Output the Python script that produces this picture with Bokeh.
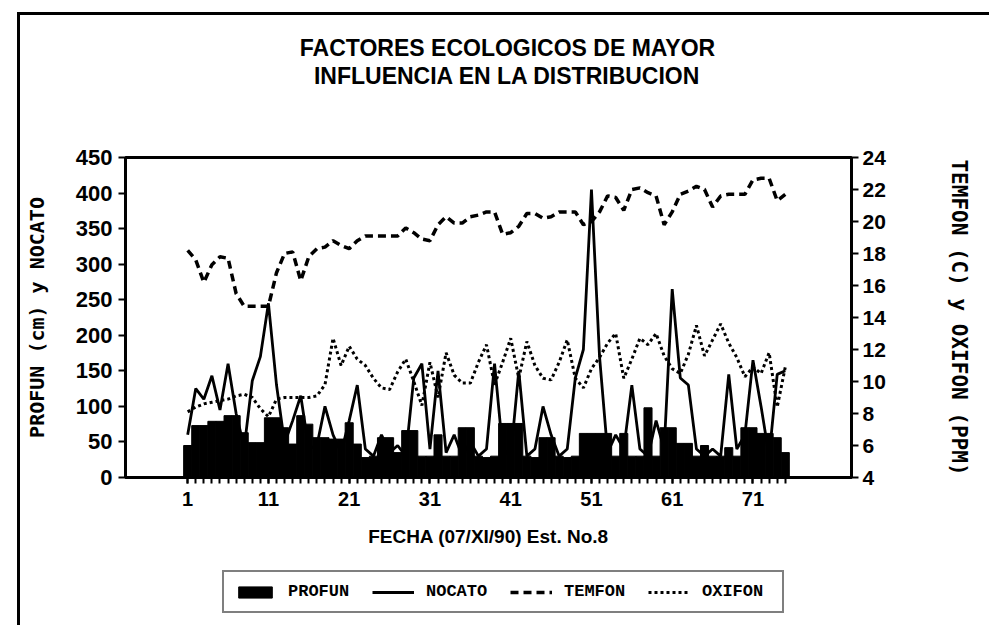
import math
from bokeh.plotting import figure
from bokeh.layouts import column
from bokeh.models import (Range1d, LinearAxis, FixedTicker, Label, Legend,
                          LegendItem, ColumnDataSource)
from bokeh.embed import file_html
from bokeh.resources import INLINE

# ---------------- data ----------------
fecha = list(range(1, 76))

profun = [45, 73, 73, 79, 79, 87, 87, 63, 49, 49,
          84, 84, 70, 47, 87, 75, 56, 56, 54, 54,
          77, 47, 28, 30, 56, 56, 35, 66, 66, 30,
          30, 60, 30, 30, 70, 70, 30, 28, 30, 76,
          76, 76, 30, 28, 56, 56, 30, 28, 30, 62,
          62, 62, 62, 30, 62, 30, 30, 98, 30, 70,
          70, 48, 48, 30, 45, 30, 30, 42, 30, 70,
          70, 62, 62, 56, 35]

nocato = [60, 125, 110, 143, 95, 160, 90, 42, 136, 170,
          245, 130, 48, 80, 115, 40, 45, 100, 60, 35,
          80, 130, 40, 30, 60, 35, 45, 30, 140, 160,
          40, 150, 35, 60, 30, 50, 30, 40, 160, 40,
          30, 150, 30, 40, 100, 60, 30, 40, 140, 180,
          405, 170, 35, 60, 40, 130, 40, 30, 80, 40,
          265, 140, 130, 40, 30, 40, 30, 145, 40, 60,
          165, 100, 30, 145, 150]

temfon = [18.2, 17.6, 16.2, 17.3, 17.8, 17.7, 15.5, 14.7, 14.7, 14.7,
          14.7, 16.8, 18.0, 18.1, 16.3, 17.8, 18.3, 18.4, 18.8, 18.5,
          18.3, 18.8, 19.1, 19.1, 19.1, 19.1, 19.1, 19.6, 19.3, 18.9,
          18.8, 19.8, 20.3, 19.9, 19.9, 20.3, 20.4, 20.6, 20.6, 19.2,
          19.3, 19.7, 20.5, 20.5, 20.2, 20.3, 20.6, 20.6, 20.6, 19.8,
          20.0, 20.6, 21.6, 21.5, 20.7, 22.0, 22.1, 21.8, 21.6, 19.8,
          20.6, 21.7, 21.9, 22.2, 22.0, 20.9, 21.6, 21.7, 21.7, 21.7,
          22.6, 22.7, 22.7, 21.3, 21.7]

oxifon = [8.1, 8.4, 8.6, 8.7, 8.8, 8.9, 9.1, 9.2, 9.0, 8.3,
          7.8, 8.9, 9.0, 9.0, 9.0, 9.0, 9.1, 9.8, 12.7, 11.0,
          12.2, 11.4, 11.0, 10.2, 9.6, 9.5, 10.6, 11.4, 10.0, 8.5,
          11.2, 9.0, 11.8, 10.4, 9.9, 9.9, 11.2, 12.3, 9.8, 11.2,
          12.7, 10.2, 12.5, 11.0, 10.2, 10.1, 11.2, 12.6, 10.2, 9.6,
          10.8, 11.5, 12.4, 13.0, 10.2, 11.4, 12.7, 12.3, 13.0, 11.6,
          10.8, 10.5, 11.7, 13.5, 11.6, 12.6, 13.6, 12.4, 11.5, 10.3,
          10.9, 10.5, 11.8, 8.4, 10.9]

left_ticks = list(range(0, 451, 50))
right_ticks = list(range(4, 25, 2))
x_label_ticks = [1, 11, 21, 31, 41, 51, 61, 71]

title_lines = ["FACTORES ECOLOGICOS DE MAYOR", "INFLUENCIA EN LA DISTRIBUCION"]
x_title = "FECHA (07/XI/90) Est. No.8"
y_left_title = "PROFUN (cm) y NOCATO"
y_right_title = "TEMFON (C) y OXIFON (PPM)"
series_names = ["PROFUN", "NOCATO", "TEMFON", "OXIFON"]

# ---------------- geometry ----------------
W = 969            # page x 20 .. 989
H_TITLE = 100      # page y 15 .. 115
H_MAIN = 451       # page y 115 .. 566
H_LEG = 59         # page y 566 .. 625
MB_L = 105
MB_R = 138

tick_font = "Liberation Sans"
mono = "DejaVu Sans Mono"

src = ColumnDataSource(dict(x=fecha, profun=profun, nocato=nocato,
                            temfon=temfon, oxifon=oxifon))


def draw_series(fig):
    b = fig.vbar(x="x", top="profun", bottom=0, width=1.0, source=src,
                 fill_color="black", line_color="black")
    n = fig.line("x", "nocato", source=src, line_color="black", line_width=2.8)
    t = fig.line("x", "temfon", source=src, line_color="black", line_width=3.5,
                 line_dash="8 5", y_range_name="r")
    o = fig.line("x", "oxifon", source=src, line_color="black", line_width=3,
                 line_dash="3 3", y_range_name="r")
    return [b, n, t, o]


def blank_fig(h):
    f = figure(width=W, height=h, output_backend="svg", toolbar_location=None,
               x_range=Range1d(1000, 1001), y_range=Range1d(1000, 1001),
               x_axis_type=None, y_axis_type=None,
               min_border_left=MB_L, min_border_right=MB_R,
               min_border_top=0, min_border_bottom=0)
    f.extra_y_ranges = {"r": Range1d(1000, 1001)}
    f.xgrid.visible = False
    f.ygrid.visible = False
    f.outline_line_color = None
    f.background_fill_color = "white"
    f.border_fill_color = "white"
    return f


# ---------------- title strip ----------------
tf = blank_fig(H_TITLE)
for txt, yy in zip(title_lines, [68, 40]):
    tf.add_layout(Label(x=382, y=yy, x_units="screen", y_units="screen",
                        text=txt, text_align="center", text_baseline="middle",
                        text_font=tick_font, text_font_style="bold",
                        text_font_size="23px", text_color="black"))

# ---------------- main figure ----------------
p = figure(width=W, height=H_MAIN, output_backend="svg", toolbar_location=None,
           x_range=Range1d(-6.7, 83.2), y_range=Range1d(0, 450),
           min_border_left=MB_L, min_border_right=MB_R,
           min_border_top=42, min_border_bottom=89)
p.extra_y_ranges = {"r": Range1d(4, 24)}
p.xgrid.visible = False
p.ygrid.visible = False
p.outline_line_color = "black"
p.outline_line_width = 3
p.background_fill_color = "white"
p.border_fill_color = "white"
draw_series(p)

# left axis
ya = p.yaxis[0]
ya.ticker = FixedTicker(ticks=left_ticks)
ya.axis_line_width = 3
ya.major_tick_line_width = 2
ya.major_tick_out = 7
ya.major_tick_in = 0
ya.minor_tick_out = 0
ya.minor_tick_in = 0
ya.major_label_standoff = 6
ya.major_label_text_font = tick_font
ya.major_label_text_font_style = "bold"
ya.major_label_text_font_size = "22px"
ya.major_label_text_color = "black"
ya.axis_label = y_left_title
ya.axis_label_standoff = 24
ya.axis_label_text_font = mono
ya.axis_label_text_font_style = "bold"
ya.axis_label_text_font_size = "20px"
ya.axis_label_text_color = "black"

# right axis
ra = LinearAxis(y_range_name="r", ticker=FixedTicker(ticks=right_ticks))
ra.axis_line_width = 3
ra.major_tick_line_width = 2
ra.major_tick_out = 7
ra.major_tick_in = 0
ra.minor_tick_out = 0
ra.minor_tick_in = 0
ra.major_label_standoff = 4
ra.major_label_text_font = tick_font
ra.major_label_text_font_style = "bold"
ra.major_label_text_font_size = "21px"
ra.major_label_text_color = "black"
ra.axis_label = y_right_title
ra.axis_label_standoff = 58
ra.axis_label_text_font = mono
ra.axis_label_text_font_style = "bold"
ra.axis_label_text_font_size = "21px"
ra.axis_label_text_color = "black"
p.add_layout(ra, "right")

# x axis
xa = p.xaxis[0]
xa.ticker = FixedTicker(ticks=x_label_ticks, minor_ticks=fecha)
xa.axis_line_width = 3
xa.major_tick_out = 6
xa.major_tick_in = 0
xa.minor_tick_out = 6
xa.minor_tick_in = 0
xa.major_tick_line_width = 2
xa.minor_tick_line_width = 2
xa.major_label_standoff = 8
xa.major_label_text_font = tick_font
xa.major_label_text_font_style = "bold"
xa.major_label_text_font_size = "20px"
xa.major_label_text_color = "black"
xa.axis_label = x_title
xa.axis_label_standoff = 17
xa.axis_label_text_font = tick_font
xa.axis_label_text_font_style = "bold"
xa.axis_label_text_font_size = "19px"
xa.axis_label_text_color = "black"

# ---------------- legend strip ----------------
lf = blank_fig(H_LEG)
leg_renderers = draw_series(lf)
legend = Legend(items=[LegendItem(label=nm, renderers=[r])
                       for nm, r in zip(series_names, leg_renderers)],
                orientation="horizontal", location=(97, 12),
                border_line_color="black", border_line_width=2,
                background_fill_color="white", background_fill_alpha=1,
                padding=10, spacing=14, margin=0,
                glyph_width=42, glyph_height=14, label_standoff=12,
                label_width=70,
                label_text_font="Liberation Mono", label_text_font_style="bold",
                label_text_font_size="17px", label_text_color="black")
lf.add_layout(legend, "center")

layout = column(tf, p, lf, spacing=0)
layout.styles = {"margin-left": "17px", "margin-top": "12px",
                 "border-left": "3px solid black",
                 "border-top": "3px solid black"}
open("out.html", "w").write(file_html(layout, INLINE))
